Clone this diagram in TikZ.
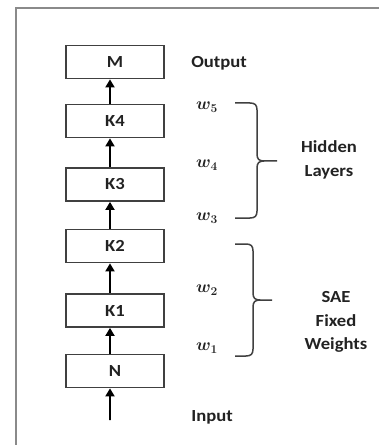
\documentclass[tikz,border=0pt]{standalone}
\usepackage{fontspec}
\setmainfont{Carlito}[FakeStretch=1.1]
\usetikzlibrary{arrows.meta}
\definecolor{boxline}{HTML}{404040}
\definecolor{frameline}{HTML}{8A8A8A}
\definecolor{txt}{HTML}{222222}
\tikzset{
  layer/.style={draw=boxline, line width=1.8bp, minimum width=98bp, minimum height=33bp,
    inner sep=0pt, font=\fontsize{17}{20}\selectfont\bfseries, text=txt},
  lbl/.style={font=\fontsize{17}{20}\selectfont\bfseries, text=txt, align=center, inner sep=0pt},
  wlbl/.style={font=\fontsize{18}{20}\selectfont\boldmath, text=txt, inner sep=0pt},
  uparr/.style={line width=1.8bp, -{Triangle[width=9bp,length=8bp]}},
  bracepath/.style={draw=boxline, line width=1.5bp},
}
\begin{document}
\begin{tikzpicture}[x=1bp,y=-1bp]
\useasboundingbox (0,0) rectangle (379,445);
\fill[white] (0,0) rectangle (379,445);
\draw[frameline, line width=2bp] (15.5,445) -- (15.5,8.5) -- (379,8.5);

\node[layer] (M)  at (115,62)    {M};
\node[layer] (K4) at (115,121)   {K4};
\node[layer] (K3) at (115,184.5) {K3};
\node[layer] (K2) at (115,246)   {K2};
\node[layer] (K1) at (115,310.5) {K1};
\node[layer] (N)  at (115,371)   {N};
\coordinate (in) at (110,420);

\draw[uparr] ([xshift=-5bp]K4.north) -- ([xshift=-5bp]M.south);
\draw[uparr] ([xshift=-5bp]K3.north) -- ([xshift=-5bp]K4.south);
\draw[uparr] ([xshift=-5bp]K2.north) -- ([xshift=-5bp]K3.south);
\draw[uparr] ([xshift=-5bp]K1.north) -- ([xshift=-5bp]K2.south);
\draw[uparr] ([xshift=-5bp]N.north) -- ([xshift=-5bp]K1.south);
\draw[uparr] (in) -- ([xshift=-5bp]N.south);

\node[lbl] (out) at (219,63) {Output};
\node[lbl] (inp) at (212,417) {Input};

\node[wlbl] (w5) at (207,107) {$w_5$};
\node[wlbl] (w4) at (207,165) {$w_4$};
\node[wlbl] (w3) at (207,218) {$w_3$};
\node[wlbl] (w2) at (207,290) {$w_2$};
\node[wlbl] (w1) at (207,348) {$w_1$};

% upper brace
\draw[bracepath] (235,103) -- (250,103) .. controls (255,103) and (257,105) .. (257,110)
  -- (257,154) .. controls (257,159) and (259,161) .. (264,161) -- (277,161);
\draw[bracepath] (264,161) .. controls (259,161) and (257,163) .. (257,168)
  -- (257,211) .. controls (257,216) and (255,218) .. (250,218) -- (235,218);
% lower brace
\draw[bracepath] (235,244) -- (246,244) .. controls (251,244) and (253,246) .. (253,251)
  -- (253,293) .. controls (253,298) and (255,300) .. (260,300) -- (272,300);
\draw[bracepath] (260,300) .. controls (255,300) and (253,302) .. (253,307)
  -- (253,349) .. controls (253,354) and (251,356) .. (246,356) -- (235,356);

\node[lbl, font=\fontsize{17}{24}\selectfont\bfseries] (hid) at (329,160) {Hidden\\Layers};
\node[lbl, font=\fontsize{17}{23.5}\selectfont\bfseries] (sae) at (336,322) {SAE\\Fixed\\Weights};
\end{tikzpicture}
\end{document}
